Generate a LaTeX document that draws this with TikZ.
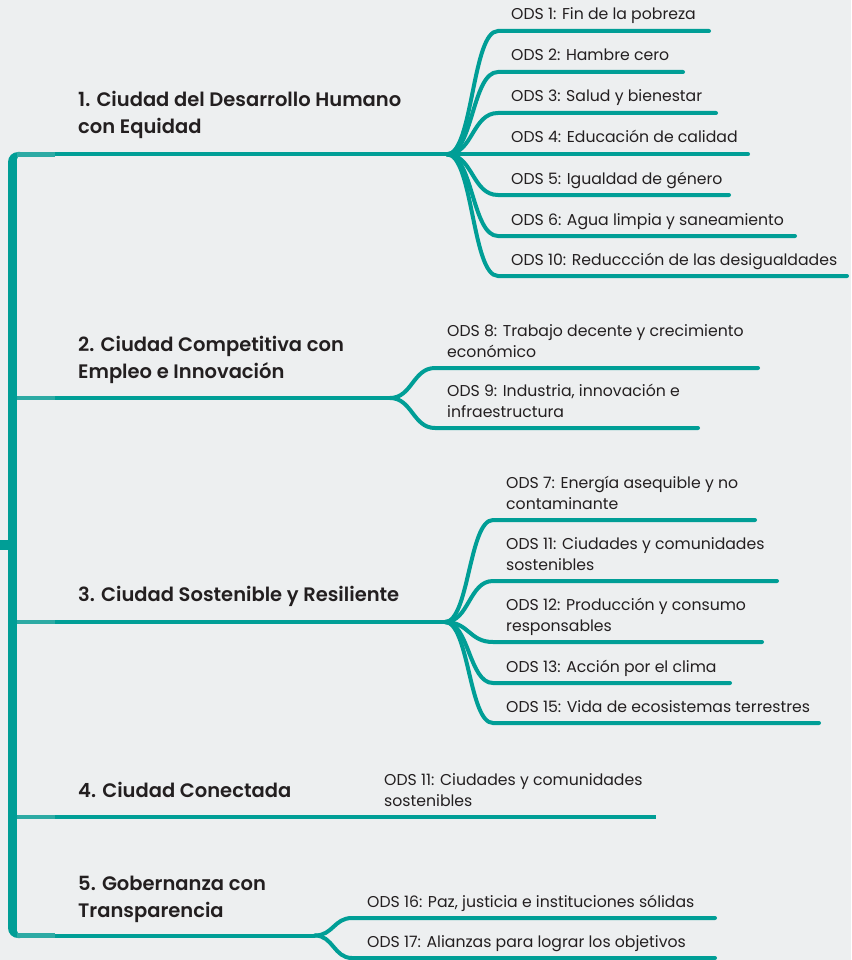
\documentclass[tikz,border=0pt]{standalone}
\usepackage{fontspec}
\setmainfont{Poppins}[BoldFont={Poppins SemiBold}]
\definecolor{bgc}{RGB}{237,239,240}
\definecolor{tealc}{RGB}{0,158,150}
\definecolor{tealL}{RGB}{45,170,164}
\definecolor{txt}{RGB}{35,31,32}
\tikzset{
  leaf/.style={draw=tealc, line width=4pt, line cap=round},
  arm/.style={draw=tealL, line width=4.5pt},
  odstext/.style={anchor=base west, inner sep=0pt, align=left, text=txt,
    font=\fontsize{15.7}{21}\selectfont},
  ttext/.style={anchor=base west, inner sep=0pt, align=left, text=txt,
    font=\bfseries\fontsize{19.5}{27}\selectfont},
}
\begin{document}
\begin{tikzpicture}[x=1pt,y=-1pt]
\useasboundingbox[fill=bgc] (0,0) rectangle (851,960);
% trunk
\fill[tealc, rounded corners=10pt] (8,152) rectangle (30,938);
\fill[bgc, rounded corners=3pt] (17,156.5) rectangle (60,933.5);
\fill[tealc] (0,540) rectangle (8,550);
% hubs
\coordinate (h1) at (447,154.3);
\coordinate (h2) at (390,398);
\coordinate (h3) at (445,622);
\coordinate (h4) at (656,817);
\coordinate (h5) at (315,935.5);
% arms
\foreach \b in {1,...,5}{
  \draw[leaf, line cap=butt] (55,0 |- h\b) -- (h\b);
  \draw[arm] (17,0 |- h\b) -- (55,0 |- h\b);
}
% branch 1 leaves
\foreach \ly/\ex in {31/709, 72/683, 113/716, 154.3/748, 195/729, 236/795, 276/847}{
  \draw[leaf] (h1) .. controls +(26,0) and +(-26,0) .. (498,\ly) -- (\ex,\ly);
}
% branch 2
\foreach \ly/\ex in {368/758, 428/698}{
  \draw[leaf] (h2) .. controls +(22,0) and +(-22,0) .. (435,\ly) -- (\ex,\ly);
}
% branch 3
\foreach \ly/\ex in {520/755, 581/777, 642/762, 683/730, 723/819}{
  \draw[leaf] (h3) .. controls +(24,0) and +(-24,0) .. (493,\ly) -- (\ex,\ly);
}
% branch 5
\foreach \ly/\ex in {918/715, 958/715}{
  \draw[leaf] (h5) .. controls +(18,0) and +(-18,0) .. (352,\ly) -- (\ex,\ly);
}
% titles (anchor at baseline of last line)
\node[ttext] (t1) at (78,134) {1. Ciudad del Desarrollo Humano\\con Equidad};
\node[ttext] (t2) at (78,378) {2. Ciudad Competitiva con\\Empleo e Innovación};
\node[ttext] (t3) at (78,601) {3. Ciudad Sostenible y Resiliente};
\node[ttext] (t4) at (78,797) {4. Ciudad Conectada};
\node[ttext] (t5) at (78,917) {5. Gobernanza con\\Transparencia};
% ODS texts
\node[odstext] (o1) at (511,20) {ODS 1: Fin de la pobreza};
\node[odstext] (o2) at (511,61) {ODS 2: Hambre cero};
\node[odstext] (o3) at (511,102) {ODS 3: Salud y bienestar};
\node[odstext] (o4) at (511,143) {ODS 4: Educación de calidad};
\node[odstext] (o5) at (511,184) {ODS 5: Igualdad de género};
\node[odstext] (o6) at (511,225) {ODS 6: Agua limpia y saneamiento};
\node[odstext] (o10) at (511,265) {ODS 10: Reduccción de las desigualdades};
\node[odstext] (o8) at (447,357) {ODS 8: Trabajo decente y crecimiento\\económico};
\node[odstext] (o9) at (447,417) {ODS 9: Industria, innovación e\\infraestructura};
\node[odstext] (o7) at (506,509) {ODS 7: Energía asequible y no\\contaminante};
\node[odstext] (o11) at (506,570) {ODS 11: Ciudades y comunidades\\sostenibles};
\node[odstext] (o12) at (506,631) {ODS 12: Producción y consumo\\responsables};
\node[odstext] (o13) at (506,672) {ODS 13: Acción por el clima};
\node[odstext] (o15) at (506,712) {ODS 15: Vida de ecosistemas terrestres};
\node[odstext] (o11b) at (384,806) {ODS 11: Ciudades y comunidades\\sostenibles};
\node[odstext] (o16) at (367,907) {ODS 16: Paz, justicia e instituciones sólidas};
\node[odstext] (o17) at (367,947) {ODS 17: Alianzas para lograr los objetivos};
\end{tikzpicture}
\end{document}
